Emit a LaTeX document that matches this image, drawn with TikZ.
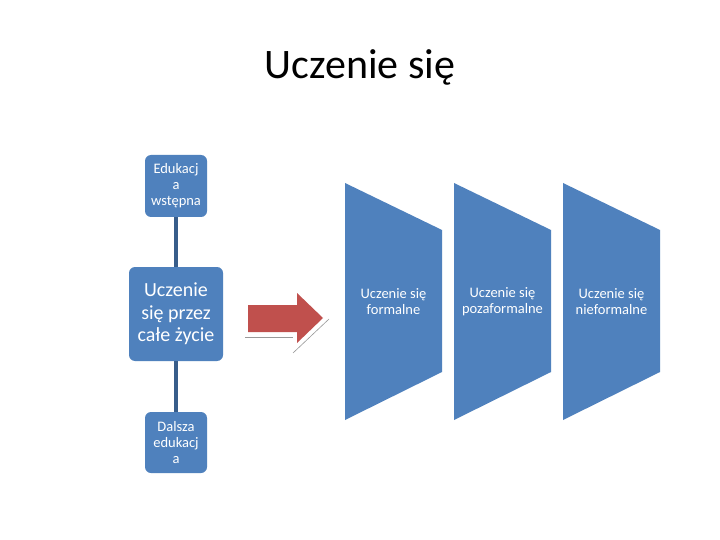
\documentclass[tikz,border=0pt]{standalone}
\usepackage{fontspec}
\setmainfont{Carlito}
\begin{document}
\begin{tikzpicture}[x=1pt,y=-1pt,
  bluebox/.style={fill=boxblue,rounded corners=6pt,text=white,align=center,inner sep=1pt},
  trap/.style={fill=boxblue},
  traptext/.style={text=white,align=center,font=\fontsize{14.5}{16}\selectfont},
  conn/.style={draw=lineblue,line width=3.5pt},
  shadowline/.style={draw=gray!80,line width=0.6pt}]
\definecolor{boxblue}{HTML}{4F81BD}
\definecolor{lineblue}{HTML}{385D8A}
\definecolor{arrowred}{HTML}{C0504D}
\useasboundingbox[fill=white] (0,0) rectangle (720,540);
% title
\node (title) at (360,67) {\fontsize{42}{44}\selectfont Uczenie się};
% left column
\node[bluebox,minimum width=62pt,minimum height=62pt,font=\fontsize{14.5}{16}\selectfont] (edu) at (176,186) {Edukacj\\a\\wstępna};
\node[bluebox,minimum width=94pt,minimum height=94pt,font=\fontsize{20}{22.5}\selectfont] (life) at (176,314) {Uczenie\\się przez\\całe życie};
\node[bluebox,minimum width=62pt,minimum height=61pt,font=\fontsize{14.5}{16}\selectfont] (further) at (176,442.5) {Dalsza\\edukacj\\a};
\draw[conn] (edu) -- (life);
\draw[conn] (life) -- (further);
% arrow
\coordinate (a1) at (248,305);
\coordinate (a2) at (297,305);
\coordinate (a3) at (297,293);
\coordinate (a4) at (323,318);
\coordinate (a5) at (297,343);
\coordinate (a6) at (297,332);
\coordinate (a7) at (248,332);
\fill[arrowred] (a1) -- (a2) -- (a3) -- (a4) -- (a5) -- (a6) -- (a7) -- cycle;
\coordinate (s1) at (245,337);
\coordinate (s2) at (293,337);
\coordinate (s3) at (293,353);
\coordinate (s4) at (329,319);
\draw[shadowline] (s1) -- (s2);
\draw[shadowline] (s3) -- (s4);
% trapezoids
\foreach \name/\xl/\xr in {t1/345/442, t2/454/551, t3/563/660}{
  \fill[trap] (\xl,183) -- (\xr,230) -- (\xr,372) -- (\xl,420) -- cycle;
  \coordinate (\name) at ({(\xl+\xr)/2},302);
}
\node[traptext] (f1) at (t1) {Uczenie się\\formalne};
\node[traptext] (f2) at (t2) {Uczenie się\\pozaformalne};
\node[traptext] (f3) at (t3) {Uczenie się\\nieformalne};
\end{tikzpicture}
\end{document}
